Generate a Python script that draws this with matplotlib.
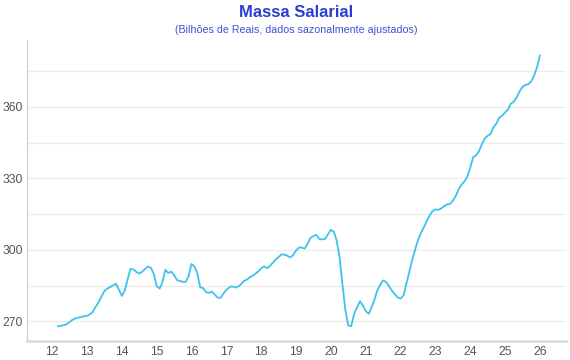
import matplotlib
matplotlib.use("Agg")
import matplotlib.pyplot as plt
import matplotlib.dates as mdates
import pandas as pd

plt.rcParams['font.family'] = ['Liberation Sans', 'DejaVu Sans']

# massa salarial mensal (R$ bilhões), mar/2012 a jan/2026
start = '2012-03-01'
massa = [
    268.0, 268.2, 268.4, 268.9, 269.8, 270.7, 271.3, 271.6, 271.9, 272.2,                 # 2012
    272.4, 273.0, 274.0, 276.2, 278.0, 280.5, 282.7, 283.8, 284.4, 285.2, 285.8, 283.3,   # 2013
    280.7, 283.0, 287.5, 292.0, 291.8, 290.8, 290.1, 290.8, 292.0, 293.0, 292.5, 290.0,   # 2014
    284.8, 283.8, 286.3, 291.7, 290.3, 290.9, 289.5, 287.4, 287.0, 286.6, 286.6, 289.0,   # 2015
    294.1, 293.0, 290.3, 284.3, 284.0, 282.3, 282.0, 282.5, 281.3, 280.0, 279.9, 281.7,   # 2016
    283.3, 284.3, 284.8, 284.2, 284.6, 285.5, 286.9, 287.5, 288.5, 289.1, 290.0, 291.0,   # 2017
    292.3, 293.1, 292.3, 293.2, 294.6, 295.9, 297.0, 298.1, 298.0, 297.6, 296.8, 297.8,   # 2018
    299.8, 301.0, 301.0, 300.5, 302.5, 305.0, 305.8, 306.3, 304.6, 304.4, 304.6, 306.5,   # 2019
    308.4, 307.6, 304.0, 297.0, 285.6, 274.8, 268.3, 268.0, 273.2, 275.9, 278.5, 276.8,   # 2020
    274.3, 273.2, 275.8, 279.0, 282.9, 285.4, 287.2, 286.6, 284.8, 282.9, 281.5, 280.1,   # 2021
    279.6, 281.0, 285.6, 290.8, 295.5, 300.0, 304.0, 307.0, 309.4, 312.0, 314.4, 316.2,   # 2022
    317.0, 316.8, 317.3, 318.3, 319.1, 319.2, 320.5, 322.5, 325.4, 327.3, 328.7, 330.7,   # 2023
    334.5, 338.9, 339.6, 341.3, 344.2, 346.7, 347.8, 348.6, 351.5, 353.0, 355.5, 356.2,   # 2024
    357.7, 358.9, 361.3, 362.1, 363.9, 366.4, 368.3, 369.1, 369.5, 370.6, 373.1, 376.6,   # 2025
    381.5,                                                                               # 2026
]
datas = pd.date_range(start, periods=len(massa), freq='MS')

y_ticks = [270, 300, 330, 360]
y_grid = [285, 315, 345, 375]

fig = plt.figure(figsize=(5.7, 3.6), dpi=100)
ax = fig.add_axes([0.047, 0.054, 0.946, 0.835])

ax.plot(datas, massa, color='#3cc3ee', lw=1.3)

ax.set_ylim(262, 388)
ax.set_xlim(pd.Timestamp('2011-04-10'), pd.Timestamp('2026-10-01'))

ax.set_yticks(y_ticks)
ax.set_yticks(y_grid, minor=True)
ax.xaxis.set_major_locator(mdates.YearLocator())
ax.xaxis.set_major_formatter(mdates.DateFormatter('%y'))

ax.grid(True, which='both', axis='y', color='#ececec', lw=0.9)
ax.set_axisbelow(True)
ax.tick_params(axis='both', which='both', length=0, labelsize=8.7, labelcolor='#555555')
ax.tick_params(axis='y', pad=3)
ax.tick_params(axis='x', pad=4)

for s in ['top', 'right']:
    ax.spines[s].set_visible(False)
ax.spines['left'].set_color('#cccccc')
ax.spines['left'].set_linewidth(0.8)
ax.spines['bottom'].set_color('#dddddd')
ax.spines['bottom'].set_linewidth(2)

fig.text(0.519, 0.965, 'Massa Salarial', ha='center', va='center',
         fontsize=12, fontweight='bold', color='#2a3fd2')
fig.text(0.519, 0.918, '(Bilhões de Reais, dados sazonalmente ajustados)', ha='center', va='center',
         fontsize=7.7, color='#3f50d8')

fig.savefig('out.png', dpi=100)
